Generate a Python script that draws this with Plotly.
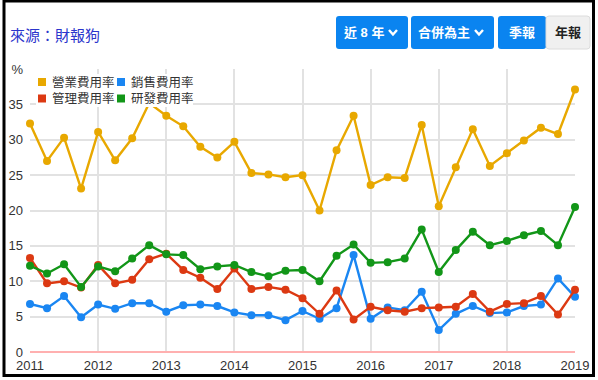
import plotly.graph_objects as go

# ---- data ----
periods = [2011.0, 2011.25, 2011.5, 2011.75,
           2012.0, 2012.25, 2012.5, 2012.75,
           2013.0, 2013.25, 2013.5, 2013.75,
           2014.0, 2014.25, 2014.5, 2014.75,
           2015.0, 2015.25, 2015.5, 2015.75,
           2016.0, 2016.25, 2016.5, 2016.75,
           2017.0, 2017.25, 2017.5, 2017.75,
           2018.0, 2018.25, 2018.5, 2018.75,
           2019.0]

operating = [32.3, 27.0, 30.3, 23.1, 31.1, 27.1, 30.2, 35.2, 33.4, 31.9, 29.0,
             27.5, 29.7, 25.3, 25.1, 24.7, 25.0, 20.0, 28.5, 33.4, 23.6, 24.7,
             24.6, 32.1, 20.6, 26.1, 31.5, 26.3, 28.1, 29.9, 31.7, 30.8, 37.1]
selling = [6.8, 6.2, 7.9, 4.9, 6.7, 6.1, 6.9, 6.9, 5.7, 6.6, 6.7,
           6.5, 5.6, 5.2, 5.2, 4.5, 5.8, 4.7, 6.2, 13.7, 4.7, 6.3,
           5.9, 8.5, 3.1, 5.4, 6.5, 5.5, 5.6, 6.5, 6.7, 10.4, 7.8]
admin = [13.3, 9.7, 10.0, 9.1, 12.3, 9.7, 10.2, 13.1, 13.9, 11.6, 10.5,
         8.9, 11.8, 8.9, 9.2, 8.8, 7.6, 5.4, 8.7, 4.6, 6.4, 5.9,
         5.7, 6.2, 6.3, 6.4, 8.2, 5.7, 6.8, 6.9, 7.9, 5.3, 8.8]
rnd = [12.2, 11.1, 12.4, 9.2, 12.1, 11.4, 13.2, 15.1, 13.8, 13.7, 11.7,
       12.1, 12.3, 11.3, 10.7, 11.5, 11.6, 10.0, 13.6, 15.2, 12.6, 12.7,
       13.2, 17.3, 11.3, 14.4, 17.0, 15.1, 15.7, 16.5, 17.1, 15.1, 20.5]

series_names = ["營業費用率", "銷售費用率", "管理費用率", "研發費用率"]
series_colors = ["#e8a800", "#1a86f2", "#dc3912", "#129618"]
series_values = [operating, selling, admin, rnd]

year_ticks = [2011, 2012, 2013, 2014, 2015, 2016, 2017, 2018, 2019]
year_labels = ["2011", "2012", "2013", "2014", "2015", "2016", "2017", "2018", "2019"]
y_ticks = [0, 5, 10, 15, 20, 25, 30, 35, 40]
y_labels = ["0", "5", "10", "15", "20", "25", "30", "35", "%"]

source_text = "來源：財報狗"
buttons = [("近 8 年", True, True), ("合併為主", True, True), ("季報", True, False), ("年報", False, False)]

# ---- layout geometry helpers ----
WIDTH, HEIGHT = 598, 380
ML, MR, MT, MB = 30, 23, 69, 28
PW = WIDTH - ML - MR
PH = HEIGHT - MT - MB

def px(x):
    return (x - ML) / PW

def py(y):
    return (HEIGHT - MB - y) / PH

def rrect(x0, y0, x1, y1, r):
    rx = r / PW
    ry = r / PH
    X0, X1 = px(x0), px(x1)
    Yt, Yb = py(y0), py(y1)
    return (f"M{X0+rx},{Yt} L{X1-rx},{Yt} Q{X1},{Yt} {X1},{Yt-ry} "
            f"L{X1},{Yb+ry} Q{X1},{Yb} {X1-rx},{Yb} L{X0+rx},{Yb} "
            f"Q{X0},{Yb} {X0},{Yb+ry} L{X0},{Yt-ry} Q{X0},{Yt} {X0+rx},{Yt} Z")

FONT = "Arial, 'Liberation Sans', 'Noto Sans CJK TC', sans-serif"

fig = go.Figure()
for name, color, vals in zip(series_names, series_colors, series_values):
    fig.add_trace(go.Scatter(
        x=periods, y=vals, name=name, mode="lines+markers",
        line=dict(color=color, width=2.4),
        marker=dict(color=color, size=8),
        cliponaxis=False, showlegend=False,
    ))

shapes = []
annotations = []

# frame
shapes.append(dict(type="rect", xref="paper", yref="paper",
                   x0=px(4), x1=px(593.5), y0=py(1), y1=py(375.5),
                   line=dict(color="#000000", width=3), layer="above"))

# legend box (drawn over data, like the original)
shapes.append(dict(type="rect", xref="paper", yref="paper",
                   x0=px(36), x1=px(193), y0=py(107), y1=py(74),
                   fillcolor="#ffffff", line=dict(width=0), layer="above"))
leg_pos = [(38, 82), (117, 82), (38, 98.5), (117, 98.5)]
for (lx, ly), name, color in zip(leg_pos, series_names, series_colors):
    shapes.append(dict(type="rect", xref="paper", yref="paper",
                       x0=px(lx), x1=px(lx + 8), y0=py(ly + 4), y1=py(ly - 4),
                       fillcolor=color, line=dict(width=0), layer="above"))
    annotations.append(dict(text=name, xref="paper", yref="paper",
                            x=px(lx + 13), y=py(ly), xanchor="left", yanchor="middle",
                            showarrow=False, borderpad=0,
                            font=dict(size=12.5, color="#333333", family=FONT)))

# source text
annotations.append(dict(text=source_text, xref="paper", yref="paper",
                        x=px(9), y=py(35), xanchor="left", yanchor="middle",
                        showarrow=False, borderpad=0,
                        font=dict(size=15, color="#2b35cc", family=FONT)))

# buttons
btn_boxes = [(336, 408), (411, 494), (498, 546), (546, 590)]
for (bx0, bx1), (label, active, chevron) in zip(btn_boxes, buttons):
    if active:
        shapes.append(dict(type="path", xref="paper", yref="paper",
                           path=rrect(bx0, 16, bx1, 49, 3),
                           fillcolor="#0a84f0", line=dict(width=0), layer="above"))
    else:
        shapes.append(dict(type="path", xref="paper", yref="paper",
                           path=rrect(bx0, 16, bx1, 49, 3),
                           fillcolor="#f0f0f0", line=dict(color="#dcdcdc", width=1), layer="above"))
    if chevron:
        cx = bx1 - 15
        tx = (bx0 + cx - 6) / 2 + 2
        shapes.append(dict(type="path", xref="paper", yref="paper",
                           path=f"M{px(cx-4)},{py(30)} L{px(cx)},{py(34.5)} L{px(cx+4)},{py(30)}",
                           line=dict(color="#ffffff", width=2.4), layer="above"))
    else:
        tx = (bx0 + bx1) / 2
    annotations.append(dict(text=f"<b>{label}</b>", xref="paper", yref="paper",
                            x=px(tx), y=py(33), xanchor="center", yanchor="middle",
                            showarrow=False,
                            font=dict(size=13, color="#ffffff" if active else "#222222", family=FONT)))

fig.update_layout(
    width=WIDTH, height=HEIGHT,
    margin=dict(l=ML, r=MR, t=MT, b=MB, pad=0, autoexpand=False),
    paper_bgcolor="#ffffff", plot_bgcolor="#ffffff",
    font=dict(family=FONT, size=13, color="#333333"),
    shapes=shapes, annotations=annotations,
    xaxis=dict(range=[2011, 2019], tickvals=year_ticks, ticktext=year_labels,
               showgrid=True, gridcolor="#e2e2e2", gridwidth=1.5,
               zeroline=False, showline=False, ticks="", automargin=False,
               tickfont=dict(size=13, color="#333333"), ticklabelstandoff=4),
    yaxis=dict(range=[0, 40], tickvals=y_ticks, ticktext=y_labels,
               showgrid=True, gridcolor="#e2e2e2", gridwidth=1.5,
               zeroline=True, zerolinecolor="#ffb0b0", zerolinewidth=1.5,
               showline=False, ticks="", automargin=False,
               tickfont=dict(size=13, color="#333333"), ticklabelstandoff=6),
    showlegend=False,
)

fig.write_html("out.html", config={"displayModeBar": False},
               post_script="document.body.style.margin='0';document.body.style.overflow='hidden';")
